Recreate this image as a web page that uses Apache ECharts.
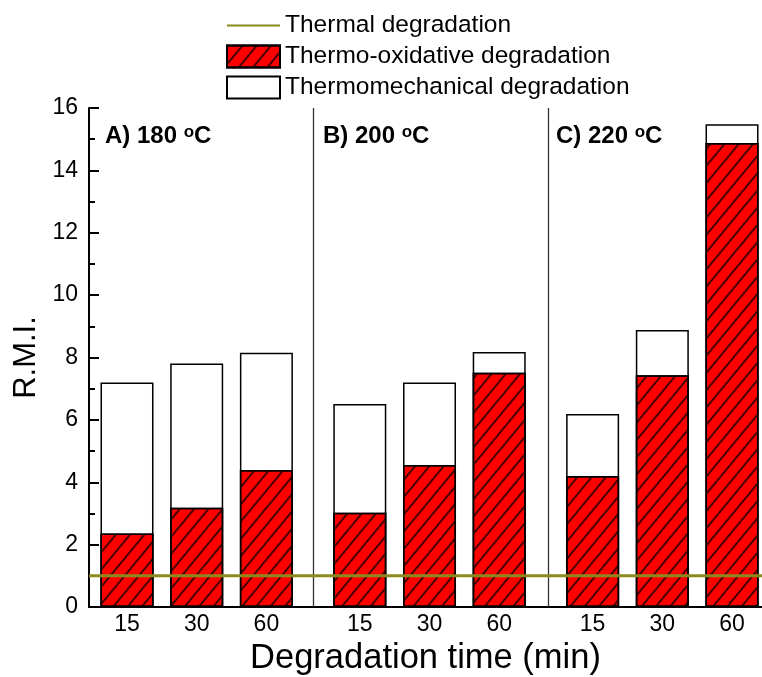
<!DOCTYPE html>
<html>
<head>
<meta charset="utf-8">
<script src="https://cdn.jsdelivr.net/npm/echarts@6/dist/echarts.min.js"></script>
<style>
  html, body { margin: 0; padding: 0; background: #fff; }
  #chartBox { width: 762px; height: 677px; }
</style>
</head>
<body>
<div id="chartBox"></div>
<script>
// bar positions on the x value axis (groups of 3, with a gap between groups)
const barPositions = [1, 2, 3, 4.34, 5.34, 6.34, 7.68, 8.68, 9.68];
const timeLabels = ['15', '30', '60', '15', '30', '60', '15', '30', '60'];
const groupSeparators = [3.67, 7.04];
const groupTitles = ['A) 180 ', 'B) 200 ', 'C) 220 '];

// R.M.I. values
const totalRMI = [7.2, 7.81, 8.15, 6.51, 7.2, 8.18, 6.19, 8.88, 15.48];   // top of each bar
const thermoOxidative = [2.36, 3.18, 4.39, 3.02, 4.55, 7.51, 4.2, 7.43, 14.88]; // hatched part
const thermalLevel = 1.0;

const xMin = 0.455, xMax = 10.11;

const chartDom = document.getElementById('chartBox');
const myChart = echarts.init(chartDom, null, { renderer: 'canvas' });

const font = 'Liberation Sans, Arial, sans-serif';

const hatch = {
  color: 'rgba(40,0,0,0.85)',
  dashArrayX: [1, 0],
  dashArrayY: [1.1, 8.5],
  rotation: -Math.PI * 0.28,
  symbolSize: 1
};

const titleStyle = (t) => ({
  text: t + '{s|o}C',
  font: 'bold 24px ' + font,
  fill: '#000',
  rich: { s: { fontSize: 17, fontWeight: 'bold', fontFamily: font, verticalAlign: 'top', padding: [0, 0, 8, 0] } }
});

const option = {
  animation: false,
  backgroundColor: '#fff',
  textStyle: { fontFamily: font, color: '#000' },
  legend: {
    orient: 'vertical',
    left: 221,
    top: 8,
    itemWidth: 53,
    itemHeight: 22,
    itemGap: 6,
    textStyle: { fontSize: 24.5, color: '#000', fontFamily: font },
    data: [
      { name: 'Thermal degradation', itemStyle: { opacity: 0 } },
      { name: 'Thermo-oxidative degradation', icon: 'rect' },
      { name: 'Thermomechanical degradation', icon: 'rect' }
    ]
  },
  grid: { left: 89, right: 0, top: 108, bottom: 70, containLabel: false, outerBoundsMode: 'none' },
  xAxis: {
    type: 'value',
    min: xMin,
    max: xMax,
    name: 'Degradation time (min)',
    nameLocation: 'middle',
    nameGap: 32,
    nameTextStyle: { fontSize: 34.5, color: '#000', fontFamily: font },
    axisLine: { show: true, onZero: false, lineStyle: { color: '#000', width: 2 } },
    axisTick: { show: false },
    splitLine: { show: false },
    axisLabel: {
      customValues: barPositions,
      fontSize: 23,
      color: '#000',
      margin: 6,
      formatter: function (v) {
        let idx = 0, best = Infinity;
        barPositions.forEach((p, i) => {
          if (Math.abs(p - v) < best) { best = Math.abs(p - v); idx = i; }
        });
        return timeLabels[idx];
      }
    }
  },
  yAxis: {
    type: 'value',
    min: 0,
    max: 16,
    interval: 2,
    name: 'R.M.I.',
    nameLocation: 'middle',
    nameGap: 45,
    nameTextStyle: { fontSize: 31, color: '#000', fontFamily: font },
    axisLine: { show: true, lineStyle: { color: '#000', width: 2 } },
    axisTick: { show: true, inside: true, length: 10, lineStyle: { color: '#000', width: 2 } },
    minorTick: { show: true, splitNumber: 2, length: 6, lineStyle: { color: '#000', width: 2 } },
    splitLine: { show: false },
    axisLabel: { fontSize: 23, color: '#000', margin: 11 }
  },
  graphic: [
    { type: 'text', left: 105, top: 124, style: titleStyle(groupTitles[0]) },
    { type: 'text', left: 323, top: 124, style: titleStyle(groupTitles[1]) },
    { type: 'text', left: 556, top: 124, style: titleStyle(groupTitles[2]) }
  ],
  series: [
    {
      name: 'Thermomechanical degradation',
      type: 'bar',
      barWidth: 53,
      barGap: '-100%',
      itemStyle: { color: '#fff', borderColor: '#000', borderWidth: 1.5 },
      data: barPositions.map((p, i) => [p, totalRMI[i]]),
      markLine: {
        silent: true,
        symbol: 'none',
        label: { show: false },
        lineStyle: { color: '#333', width: 1.3, type: 'solid' },
        data: groupSeparators.map(x => ({ xAxis: x }))
      }
    },
    {
      name: 'Thermo-oxidative degradation',
      type: 'bar',
      barWidth: 53,
      barGap: '-100%',
      itemStyle: { color: '#ff0000', borderColor: '#000', borderWidth: 1.5, decal: hatch },
      data: barPositions.map((p, i) => [p, thermoOxidative[i]])
    },
    {
      name: 'Thermal degradation',
      type: 'line',
      symbol: 'none',
      z: 5,
      lineStyle: { color: '#8a8a1e', width: 3 },
      itemStyle: { color: '#8a8a1e' },
      data: [[xMin, thermalLevel], [xMax, thermalLevel]]
    }
  ]
};

myChart.setOption(option);
</script>
</body>
</html>
